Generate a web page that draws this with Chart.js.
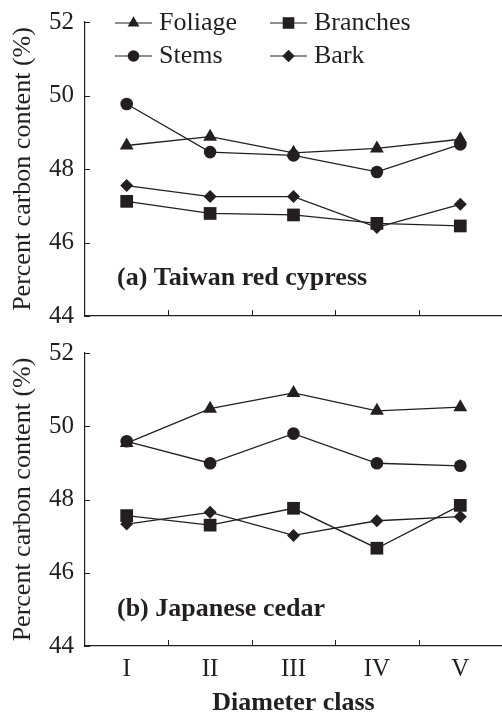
<!DOCTYPE html>
<html>
<head>
<meta charset="utf-8">
<script src="https://cdn.jsdelivr.net/npm/chart.js@4.4.0/dist/chart.umd.min.js"></script>
<style>
  html, body { margin: 0; padding: 0; background: #fff; overflow: hidden; }
  #wrap { position: relative; width: 502px; height: 712px; }
  .panel { position: absolute; left: 0; width: 502px; }
  #p1 { top: 0; height: 330px; }
  #p2 { top: 330px; height: 382px; }
</style>
</head>
<body>
<div id="wrap">
  <div class="panel" id="p1"><canvas id="c1" width="502" height="330"></canvas></div>
  <div class="panel" id="p2"><canvas id="c2" width="502" height="382"></canvas></div>
</div>
<script>
// ---- Data ----
const categories = ['I', 'II', 'III', 'IV', 'V'];
const seriesNames = ['Foliage', 'Stems', 'Branches', 'Bark'];

const cypressFoliage  = [48.64, 48.88, 48.44, 48.56, 48.81];
const cypressStems    = [49.77, 48.46, 48.37, 47.92, 48.67];
const cypressBranches = [47.12, 46.79, 46.75, 46.52, 46.45];
const cypressBark     = [47.55, 47.25, 47.25, 46.41, 47.04];

const cedarFoliage  = [49.54, 50.48, 50.91, 50.42, 50.52];
const cedarStems    = [49.59, 48.99, 49.80, 48.99, 48.92];
const cedarBranches = [47.56, 47.30, 47.76, 46.67, 47.84];
const cedarBark     = [47.33, 47.65, 47.02, 47.42, 47.53];

const yMin = 44, yMax = 52, yStep = 2;
const panelLabels = ['(a) Taiwan red cypress', '(b) Japanese cedar'];
const yTitle = 'Percent carbon content (%)';
const xTitle = 'Diameter class';

// ---- Styling ----
const INK = '#231f20';
const SERIF = '"Liberation Serif", "DejaVu Serif", serif';
const styles = {
  Foliage:  { pointStyle: 'triangle', radius: 8.0, legendRadius: 6.8 },
  Stems:    { pointStyle: 'circle',   radius: 6.3, legendRadius: 5.8 },
  Branches: { pointStyle: 'rect',     radius: 9.0, legendRadius: 8.2 },
  Bark:     { pointStyle: 'rectRot',  radius: 6.5, legendRadius: 6.2 }
};

function makeDatasets(values) {
  return seriesNames.map((name, i) => ({
    label: name,
    data: values[i],
    borderColor: INK,
    backgroundColor: INK,
    borderWidth: 1.3,
    pointStyle: styles[name].pointStyle,
    pointRadius: styles[name].radius,
    pointBorderWidth: 0,
    pointBackgroundColor: INK,
    tension: 0,
    fill: false,
    clip: false
  }));
}

function zeroPad(s) {
  s.paddingTop = 0; s.paddingBottom = 0; s.paddingLeft = 0; s.paddingRight = 0;
}

// inward tick marks
const inwardTicks = {
  id: 'inwardTicks',
  afterDraw(chart) {
    const { ctx, chartArea } = chart;
    const xs = chart.scales.x, ys = chart.scales.y;
    ctx.save();
    ctx.strokeStyle = INK;
    ctx.lineWidth = 1;
    ys.ticks.forEach(t => {
      const y = Math.round(ys.getPixelForValue(t.value)) + 0.5;
      ctx.beginPath();
      ctx.moveTo(chartArea.left, y);
      ctx.lineTo(chartArea.left + 5, y);
      ctx.stroke();
    });
    const half = (xs.getPixelForValue(1) - xs.getPixelForValue(0)) / 2;
    for (let i = 1; i < categories.length; i++) {
      const x = Math.round(xs.getPixelForValue(i) - half) + 0.5;
      ctx.beginPath();
      ctx.moveTo(x, chartArea.bottom);
      ctx.lineTo(x, chartArea.bottom - 6);
      ctx.stroke();
    }
    ctx.restore();
  }
};

// panel label
const panelLabel = {
  id: 'panelLabel',
  afterDraw(chart, args, opts) {
    const { ctx, chartArea } = chart;
    ctx.save();
    ctx.fillStyle = INK;
    ctx.font = 'bold 26px ' + SERIF;
    ctx.textBaseline = 'middle';
    ctx.textAlign = 'left';
    ctx.fillText(opts.text, chartArea.left + 32, chartArea.top + 256);
    ctx.restore();
  }
};

// in-plot legend with line + marker
const lineLegend = {
  id: 'lineLegend',
  afterDraw(chart, args, opts) {
    if (!opts.show) return;
    const { ctx, chartArea } = chart;
    const cols = [chartArea.left + 30, chartArea.left + 185];
    const rows = [chartArea.top + 1, chartArea.top + 34];
    const order = [['Foliage', 0, 0], ['Branches', 1, 0], ['Stems', 0, 1], ['Bark', 1, 1]];
    ctx.save();
    order.forEach(([name, c, r]) => {
      const x0 = cols[c], y = rows[r];
      ctx.strokeStyle = INK;
      ctx.fillStyle = INK;
      ctx.lineWidth = 1.2;
      ctx.beginPath();
      ctx.moveTo(x0, y);
      ctx.lineTo(x0 + 37, y);
      ctx.stroke();
      Chart.helpers.drawPoint(ctx, {
        pointStyle: styles[name].pointStyle,
        radius: styles[name].legendRadius,
        rotation: 0,
        borderWidth: 0
      }, x0 + 18.5, y);
      ctx.fillStyle = INK;
      ctx.font = '26px ' + SERIF;
      ctx.textBaseline = 'middle';
      ctx.textAlign = 'left';
      ctx.fillText(name, x0 + 44, y);
    });
    ctx.restore();
  }
};

function makeChart(canvasId, values, label, isTop) {
  return new Chart(document.getElementById(canvasId), {
    type: 'line',
    data: { labels: categories, datasets: makeDatasets(values) },
    options: {
      responsive: false,
      animation: false,
      devicePixelRatio: 1,
      layout: {
        autoPadding: false,
        padding: isTop ? { top: 22, right: 0, bottom: 14, left: 0 }
                       : { top: 23, right: 0, bottom: 0, left: 0 }
      },
      plugins: {
        legend: { display: false },
        tooltip: { enabled: false },
        panelLabel: { text: label },
        lineLegend: { show: isTop }
      },
      scales: {
        x: {
          type: 'category',
          offset: true,
          grid: { display: false, drawTicks: false, offset: true },
          border: { display: true, color: INK, width: 1.2 },
          ticks: {
            display: !isTop,
            color: INK,
            padding: 8,
            maxRotation: 0,
            font: { family: SERIF, size: 25 }
          },
          title: {
            display: !isTop,
            text: xTitle,
            color: INK,
            padding: 0,
            font: { family: SERIF, size: 26, weight: 'bold', lineHeight: 0.65 }
          },
          afterFit(s) { s.height = isTop ? 0 : 66; zeroPad(s); }
        },
        y: {
          min: yMin,
          max: yMax,
          grid: { display: false, drawTicks: false },
          border: { display: true, color: INK, width: 1.2 },
          ticks: {
            stepSize: yStep,
            color: INK,
            padding: 11,
            font: { family: SERIF, size: 25 }
          },
          title: {
            display: true,
            text: yTitle,
            color: INK,
            padding: { top: 8, bottom: 0 },
            font: { family: SERIF, size: 26 }
          },
          afterFit(s) { s.width = 85; zeroPad(s); }
        }
      }
    },
    plugins: [inwardTicks, panelLabel, lineLegend]
  });
}

makeChart('c1', [cypressFoliage, cypressStems, cypressBranches, cypressBark], panelLabels[0], true);
makeChart('c2', [cedarFoliage, cedarStems, cedarBranches, cedarBark], panelLabels[1], false);
</script>
</body>
</html>
